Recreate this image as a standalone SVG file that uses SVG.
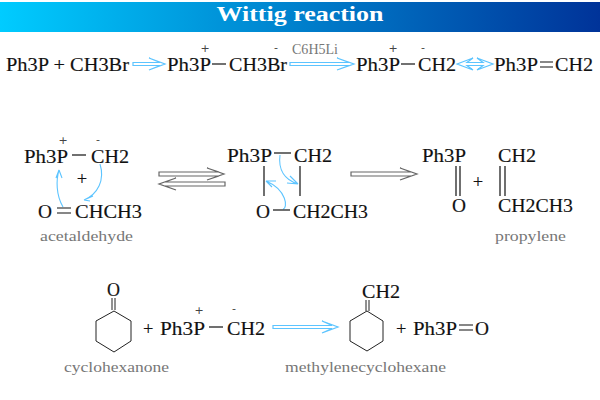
<svg xmlns="http://www.w3.org/2000/svg" width="600" height="400" viewBox="0 0 600 400">
<style>
text{font-family:"Liberation Serif","DejaVu Serif",serif;fill:#111}
.f{font-size:18.500px;stroke:#111;stroke-width:.15}
.c{font-family:"DejaVu Sans",sans-serif;font-size:11px;fill:#444;text-anchor:middle}
.g{font-size:15.500px;fill:#777}
.t{font-size:20px;font-weight:bold;fill:#fff}
.b{stroke:#111;stroke-width:1.2;fill:none}
.k{stroke:#222;stroke-width:1;fill:none}
.ba{stroke:#5cc4ff;stroke-width:1.2;fill:#fff}
.ga{stroke:#666;stroke-width:1.2;fill:#fff}
.cv{stroke:#5cc4ff;stroke-width:1.1;fill:none}
</style>
<defs>
<linearGradient id="hdr" x1="0" x2="1" y1="0" y2="0"><stop offset="0" stop-color="#00ccff"/><stop offset="1" stop-color="#003399"/></linearGradient>
</defs>
<rect width="600" height="400" fill="#fff"/>
<g id="title"><rect y="2" width="600" height="30" fill="url(#hdr)"/><text class="t" x="300" y="21" text-anchor="middle" textLength="167" lengthAdjust="spacingAndGlyphs">Wittig reaction</text></g>

<g id="connectors">
<path class="ba" d="M133 62.500H160L149 58L165 64L149 70L160 65.500H133Z"/>
<path class="ba" d="M290 62.500H349L337 58L354 64L337 70L349 65.500H290Z"/>
<path class="ba" d="M457 64L473 58L467 62.500H483L477 58L493 64L477 70L483 65.500H467L473 70Z"/>
<path class="ga" d="M159 172H219L207 168L224 174L207 180L219 176H159Z"/>
<path class="ga" d="M225 182H165L176 178L159 184L176 190L165 186H225Z"/>
<path class="ga" d="M351 172H411L400 168L417 174L400 180L411 176H351Z"/>
<path class="ba" d="M273 325.500H332L322 321L338 327L322 333L332 328.500H273Z"/>
<path class="cv" d="M100 164C105 180 98 194 84 200M84 200L93 196M84 200L90 201"/>
<path class="cv" d="M63 207C56 195 56 180 59 170M59 170L56 178M59 170L62 178"/>
<path class="cv" d="M280 155C278 170 285 180 298 184M298 184L287 183M298 184L290 176"/>
<path class="cv" d="M283 209C288 208 287 190 266 181M266 181L276 181M266 181L272 187"/>
</g>

<g id="row1-reagents"><text class="f" x="6" y="71" textLength="123" lengthAdjust="spacingAndGlyphs">Ph3P + CH3Br</text></g>
<g id="row1-salt">
<text class="f" x="167" y="71" textLength="44" lengthAdjust="spacingAndGlyphs">Ph3P</text>
<line class="b" x1="212" x2="226" y1="64" y2="64"/>
<text class="f" x="229" y="71" textLength="58" lengthAdjust="spacingAndGlyphs">CH3Br</text>
<text class="c" x="205" y="52">+</text><text class="c" x="276" y="51">-</text>
</g>
<g id="row1-base"><text class="g" x="292" y="54" textLength="46" lengthAdjust="spacingAndGlyphs">C6H5Li</text></g>
<g id="row1-ylide">
<text class="f" x="356" y="71" textLength="44" lengthAdjust="spacingAndGlyphs">Ph3P</text>
<line class="b" x1="401" x2="415" y1="64" y2="64"/>
<text class="f" x="418" y="71" textLength="38" lengthAdjust="spacingAndGlyphs">CH2</text>
<text class="c" x="393" y="52">+</text><text class="c" x="423" y="51">-</text>
</g>
<g id="row1-ylene">
<text class="f" x="494" y="71" textLength="44" lengthAdjust="spacingAndGlyphs">Ph3P</text>
<path class="b" d="M540 62H553M540 67H553"/>
<text class="f" x="555" y="71" textLength="38" lengthAdjust="spacingAndGlyphs">CH2</text>
</g>

<g id="row2-reactants">
<text class="f" x="24" y="163" textLength="44" lengthAdjust="spacingAndGlyphs">Ph3P</text>
<line class="b" x1="72" x2="86" y1="155" y2="155"/>
<text class="f" x="91" y="163" textLength="38" lengthAdjust="spacingAndGlyphs">CH2</text>
<text class="c" x="63" y="144">+</text><text class="c" x="98" y="143">-</text>
<text class="f" x="82" y="185" text-anchor="middle">+</text>
<text class="f" x="38" y="218" textLength="14" lengthAdjust="spacingAndGlyphs">O</text>
<path class="b" d="M57 208H71M57 213H71"/>
<text class="f" x="75" y="218" textLength="67" lengthAdjust="spacingAndGlyphs">CHCH3</text>
<text class="g" x="40" y="241" textLength="93" lengthAdjust="spacingAndGlyphs">acetaldehyde</text>
</g>
<g id="row2-intermediate">
<text class="f" x="227" y="162" textLength="45" lengthAdjust="spacingAndGlyphs">Ph3P</text>
<line class="b" x1="274" x2="291" y1="153" y2="153"/>
<text class="f" x="294" y="162" textLength="38" lengthAdjust="spacingAndGlyphs">CH2</text>
<path class="b" d="M264 166V196M300 166V196"/>
<text class="f" x="256" y="218" textLength="14" lengthAdjust="spacingAndGlyphs">O</text>
<line class="b" x1="273" x2="290" y1="210" y2="210"/>
<text class="f" x="293" y="218" textLength="75" lengthAdjust="spacingAndGlyphs">CH2CH3</text>
</g>
<g id="row2-oxide">
<text class="f" x="422" y="162" textLength="44" lengthAdjust="spacingAndGlyphs">Ph3P</text>
<path class="b" d="M456 166V196M460 166V196"/>
<text class="f" x="452" y="212" textLength="14" lengthAdjust="spacingAndGlyphs">O</text>
</g>
<g id="row2-plus"><text class="f" x="478" y="188" text-anchor="middle">+</text></g>
<g id="row2-propylene">
<text class="f" x="498" y="162" textLength="38" lengthAdjust="spacingAndGlyphs">CH2</text>
<path class="b" d="M500 166V196M505 166V196"/>
<text class="f" x="498" y="212" textLength="75" lengthAdjust="spacingAndGlyphs">CH2CH3</text>
<text class="g" x="495" y="241" textLength="71" lengthAdjust="spacingAndGlyphs">propylene</text>
</g>

<g id="row3-cyclohexanone">
<text class="f" x="107" y="296" textLength="13" lengthAdjust="spacingAndGlyphs">O</text>
<path class="k" d="M112 298V310M115 298V310"/>
<path class="k" d="M114 311L131 321V341L114 352L96 341V321Z"/>
<text class="g" x="64" y="372" textLength="105" lengthAdjust="spacingAndGlyphs">cyclohexanone</text>
</g>
<g id="row3-ylide">
<text class="f" x="143" y="335">+</text>
<text class="f" x="160" y="335" textLength="45" lengthAdjust="spacingAndGlyphs">Ph3P</text>
<line class="b" x1="209" x2="223" y1="327" y2="327"/>
<text class="f" x="227" y="335" textLength="38" lengthAdjust="spacingAndGlyphs">CH2</text>
<text class="c" x="199" y="314">+</text><text class="c" x="234" y="312">-</text>
</g>
<g id="row3-methylenecyclohexane">
<text class="f" x="362" y="298" textLength="38" lengthAdjust="spacingAndGlyphs">CH2</text>
<path class="k" d="M366 300V311M369 300V311"/>
<path class="k" d="M367 311L383 321V341L367 351L350 341V321Z"/>
<text class="g" x="285" y="372" textLength="161" lengthAdjust="spacingAndGlyphs">methylenecyclohexane</text>
</g>
<g id="row3-oxide">
<text class="f" x="396" y="335">+</text>
<text class="f" x="413" y="335" textLength="44" lengthAdjust="spacingAndGlyphs">Ph3P</text>
<path class="b" d="M459 325H473M459 330H473"/>
<text class="f" x="475" y="335" textLength="14" lengthAdjust="spacingAndGlyphs">O</text>
</g>
</svg>
